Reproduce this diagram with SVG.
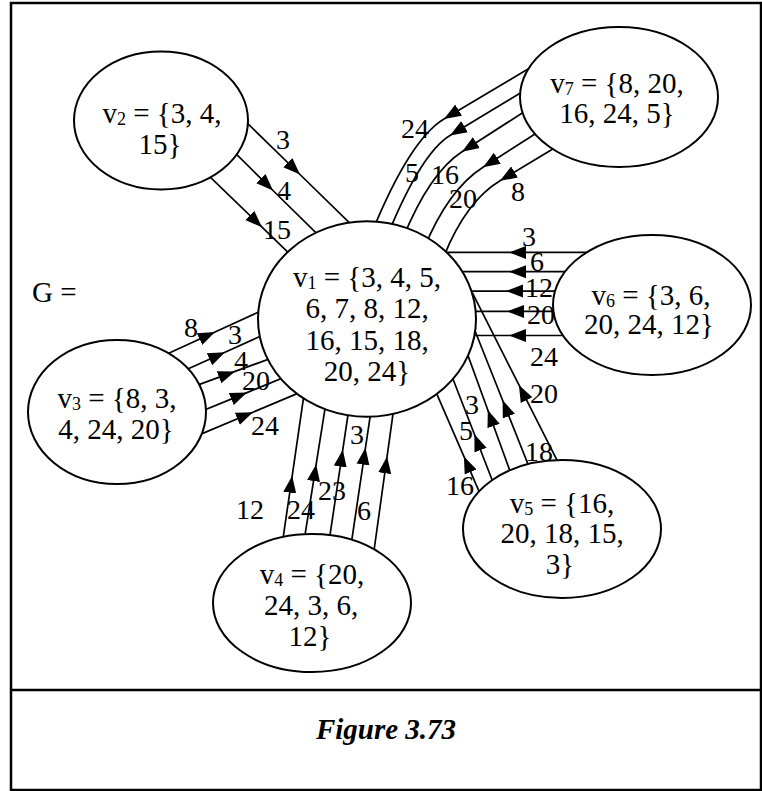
<svg xmlns="http://www.w3.org/2000/svg" width="762" height="791" viewBox="0 0 762 791">
<style>
text{font-family:"Liberation Serif","Times New Roman",serif;font-size:29px;fill:#000}
.m{text-anchor:middle}
.s{font-size:18px}
.nd ellipse{fill:#fff;stroke:#000;stroke-width:2}
#connectors path{fill:none;stroke:#000;stroke-width:1.7;marker-mid:url(#ah)}
#labels text{font-size:28px}
.cap{font-weight:bold;font-style:italic}
</style>
<defs>
<marker id="ah" markerUnits="userSpaceOnUse" viewBox="0 0 18 14" markerWidth="18" markerHeight="14" refX="17" refY="7" orient="auto">
<path d="M0,0.5 L17,7 L0,13.5 Z" fill="#000"/>
</marker>
</defs>
<rect x="0" y="0" width="762" height="791" fill="#fff"/>
<g id="frame" fill="none" stroke="#000" stroke-width="2.5">
<rect x="11" y="3" width="750" height="787"/>
<line x1="11" y1="690" x2="761" y2="690"/>
</g>
<g id="connectors">
<path d="M239.5,115.6 L300,174.5 L359.5,232.6"/>
<path d="M231,148.9 L273,190.5 L326,242.7"/>
<path d="M203,170.2 L262,227.2 L296,260.1"/>
<path d="M535.5,64.6 L444,118.9 Q410,139.2 372,232.1"/>
<path d="M527.5,88.7 L450,135.4 Q421.6,152.5 388,234"/>
<path d="M530.3,107.8 L462,151.8 Q429.9,172.5 403,237.9"/>
<path d="M541.3,130 L483,167.3 Q448.4,189.3 424,248.5"/>
<path d="M561.5,143.8 L500,180.8 Q464.9,201.9 442,261.1"/>
<path d="M598,252.4 L509,252.4 L436,252.4"/>
<path d="M576,271.7 L509,271.7 L452,271.7"/>
<path d="M567,291.1 L506,291.1 L461,291.1"/>
<path d="M565,311.4 L507,311.4 L465,311.4"/>
<path d="M575,335.5 L509,335.5 L464,335.5"/>
<path d="M483.6,501.9 L463.9,456.4 L432.4,383.9"/>
<path d="M496.2,490.5 L474.4,434.2 L448.8,368.3"/>
<path d="M514,481.9 L487.8,410 L462,339.1"/>
<path d="M532.3,475 L502.6,400.3 L468.7,315"/>
<path d="M562.3,470.7 L518.9,384.9 L463.2,274.6"/>
<path d="M281.3,550.2 L292.2,475.8 L304.7,389.7"/>
<path d="M303.2,546.3 L316.2,464.2 L326.8,397.4"/>
<path d="M328.3,546.3 L342.8,449.7 L349.7,403.4"/>
<path d="M350.3,550.1 L365.5,447.7 L371.7,406.2"/>
<path d="M373.4,555 L387.1,456.4 L394.6,402.4"/>
<path d="M156.2,358.9 L215,332 L268.8,307.4"/>
<path d="M176.1,374.3 L225,352.3 L270.9,331.5"/>
<path d="M181.8,390.9 L235,371.4 L278.2,355.7"/>
<path d="M191,415.5 L247,392.6 L291,374.5"/>
<path d="M192,437.9 L253,412.2 L306,389.9"/>
</g>
<g id="v1" class="nd">
<ellipse cx="367" cy="319" rx="109" ry="97.7"/>
<text class="m" x="367" y="287">v<tspan class="s" dy="2">1</tspan><tspan dy="-2"> = {3, 4, 5,</tspan></text>
<text class="m" x="367" y="318">6, 7, 8, 12,</text>
<text class="m" x="367" y="349.5">16, 15, 18,</text>
<text class="m" x="367" y="381">20, 24}</text>
</g>
<g id="v2" class="nd">
<ellipse cx="161" cy="120.5" rx="87" ry="69"/>
<text class="m" x="162" y="123">v<tspan class="s" dy="2">2</tspan><tspan dy="-2"> = {3, 4,</tspan></text>
<text class="m" x="160" y="154">15}</text>
</g>
<g id="v3" class="nd">
<ellipse cx="117" cy="412" rx="89" ry="72"/>
<text class="m" x="117" y="408">v<tspan class="s" dy="2">3</tspan><tspan dy="-2"> = {8, 3,</tspan></text>
<text class="m" x="116" y="439">4, 24, 20}</text>
</g>
<g id="v4" class="nd">
<ellipse cx="312" cy="603" rx="99" ry="69"/>
<text class="m" x="312" y="584">v<tspan class="s" dy="2">4</tspan><tspan dy="-2"> = {20,</tspan></text>
<text class="m" x="311" y="615">24, 3, 6,</text>
<text class="m" x="310" y="646">12}</text>
</g>
<g id="v5" class="nd">
<ellipse cx="562" cy="529" rx="99" ry="69"/>
<text class="m" x="562" y="512.5">v<tspan class="s" dy="2">5</tspan><tspan dy="-2"> = {16,</tspan></text>
<text class="m" x="562" y="542.5">20, 18, 15,</text>
<text class="m" x="560" y="573.5">3}</text>
</g>
<g id="v6" class="nd">
<ellipse cx="652" cy="305" rx="99" ry="70"/>
<text class="m" x="651" y="304.5">v<tspan class="s" dy="2">6</tspan><tspan dy="-2"> = {3, 6,</tspan></text>
<text class="m" x="649" y="334">20, 24, 12}</text>
</g>
<g id="v7" class="nd">
<ellipse cx="619" cy="97" rx="99" ry="70"/>
<text class="m" x="617" y="93">v<tspan class="s" dy="2">7</tspan><tspan dy="-2"> = {8, 20,</tspan></text>
<text class="m" x="617" y="123">16, 24, 5}</text>
</g>
<g id="labels">
<text class="m" x="283" y="149">3</text>
<text class="m" x="284" y="200">4</text>
<text class="m" x="277" y="239">15</text>
<text class="m" x="415" y="138">24</text>
<text class="m" x="412" y="182">5</text>
<text class="m" x="445" y="184">16</text>
<text class="m" x="463" y="208">20</text>
<text class="m" x="518" y="201">8</text>
<text class="m" x="529" y="246">3</text>
<text class="m" x="537" y="270.5">6</text>
<text class="m" x="539" y="297">12</text>
<text class="m" x="541" y="324">20</text>
<text class="m" x="544" y="365.5">24</text>
<text class="m" x="460" y="495">16</text>
<text class="m" x="466" y="440">5</text>
<text class="m" x="472" y="414">3</text>
<text class="m" x="539" y="461">18</text>
<text class="m" x="544" y="403">20</text>
<text class="m" x="250" y="519">12</text>
<text class="m" x="301" y="519">24</text>
<text class="m" x="332" y="500">23</text>
<text class="m" x="357" y="444">3</text>
<text class="m" x="364" y="520">6</text>
<text class="m" x="191" y="336.5">8</text>
<text class="m" x="235" y="343.5">3</text>
<text class="m" x="241" y="369.5">4</text>
<text class="m" x="256" y="390">20</text>
<text class="m" x="265" y="435">24</text>
</g>
<text id="g-label" x="32" y="302">G =</text>
<text id="caption" class="m cap" x="386" y="739">Figure 3.73</text>
</svg>
